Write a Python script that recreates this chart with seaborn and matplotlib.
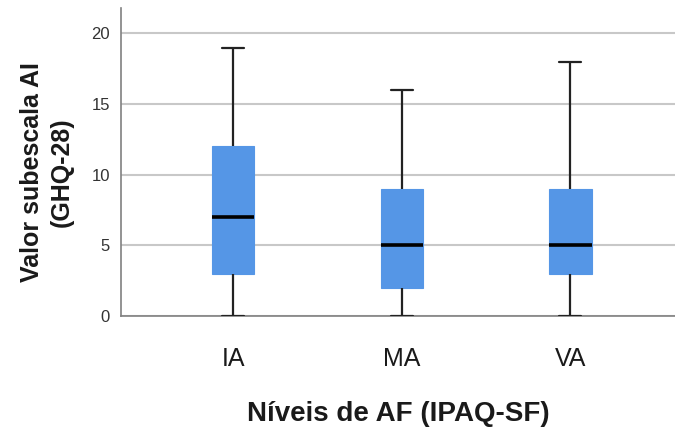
import matplotlib
matplotlib.use("Agg")
import matplotlib.pyplot as plt
import seaborn as sns
import pandas as pd

# Five-number summaries (min, Q1, median, Q3, max) per activity level
categories = ["IA", "MA", "VA"]
ia_values = [0, 3, 7, 12, 19]
ma_values = [0, 2, 5, 9, 16]
va_values = [0, 3, 5, 9, 18]
y_ticks = [0, 5, 10, 15, 20]

df = pd.DataFrame({
    "nivel": [c for c, v in zip(categories, [ia_values, ma_values, va_values]) for _ in v],
    "valor": ia_values + ma_values + va_values,
})

sns.set_theme(style="white")
plt.rcParams["font.family"] = ["Liberation Sans", "DejaVu Sans"]

fig = plt.figure(figsize=(6.75, 4.32), dpi=100)
ax = fig.add_axes([121 / 675, 1 - 316 / 432, 554 / 675, 308 / 432])

box_color = "#5596E6"
sns.boxplot(
    data=df, x="nivel", y="valor", order=categories, ax=ax,
    whis=(0, 100), width=0.25, color=box_color, saturation=1,
    linewidth=1.6, showfliers=False,
    boxprops=dict(facecolor=box_color, edgecolor=box_color, linewidth=0.8),
    medianprops=dict(color="black", linewidth=2.6),
    whiskerprops=dict(color="#222222", linewidth=1.6),
    capprops=dict(color="#222222", linewidth=1.6),
    zorder=3,
)

# Narrower whisker caps
for line in ax.lines:
    xd = list(line.get_xdata())
    yd = list(line.get_ydata())
    if len(xd) == 2 and yd[0] == yd[1] and line.get_linewidth() < 2:
        c = (xd[0] + xd[1]) / 2
        line.set_xdata([c - 0.065, c + 0.065])

ax.set_ylim(0, 21.8)
ax.set_xlim(-0.665, 2.62)
ax.set_yticks(y_ticks)
ax.yaxis.grid(True, color="#c8c8c8", linewidth=1.5, zorder=0)
ax.set_axisbelow(True)

for s in ["top", "right"]:
    ax.spines[s].set_visible(False)
for s in ["left", "bottom"]:
    ax.spines[s].set_color("#808080")
    ax.spines[s].set_linewidth(1.2)

ax.tick_params(axis="both", length=0)
ax.tick_params(axis="y", labelsize=12, labelcolor="#333333", pad=8)
ax.tick_params(axis="x", labelsize=18, labelcolor="#1a1a1a", pad=22)

ax.set_xlabel("Níveis de AF (IPAQ-SF)", fontsize=20, fontweight="bold",
              color="#1a1a1a", labelpad=22)
ax.set_ylabel("Valor subescala AI\n(GHQ-28)", fontsize=18, fontweight="bold",
              color="#1a1a1a", linespacing=1.3)
ax.yaxis.set_label_coords(-0.085, 0.468)

fig.savefig("out.png", dpi=100)
